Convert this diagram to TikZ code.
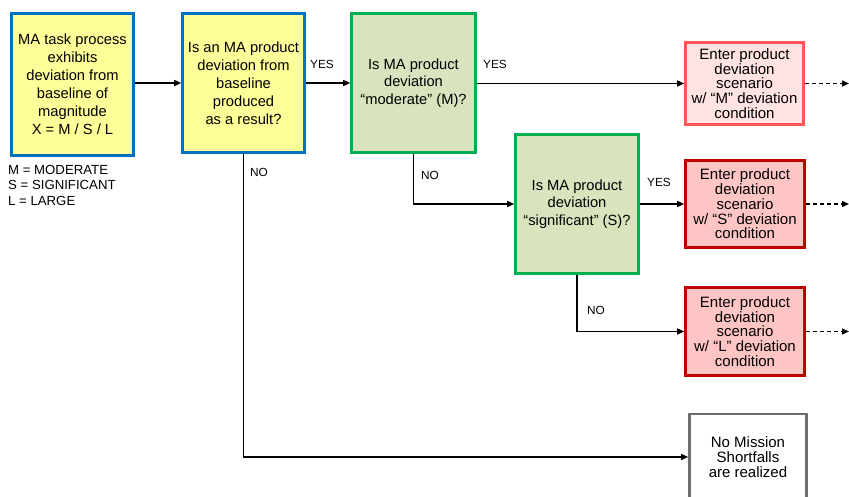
\documentclass[tikz,border=0pt]{standalone}
\usepackage{fontspec}
\setmainfont{Liberation Sans}
\usetikzlibrary{arrows.meta}
\definecolor{yfill}{HTML}{FFFF99}
\definecolor{bdraw}{HTML}{0070C0}
\definecolor{gfill}{HTML}{D7E4BD}
\definecolor{gdraw}{HTML}{00B050}
\definecolor{pfill}{HTML}{FFE3E3}
\definecolor{pdraw}{HTML}{FF5757}
\definecolor{rfill}{HTML}{FFC5C5}
\definecolor{rdraw}{HTML}{C00000}
\definecolor{hdraw}{HTML}{6E6E6E}
\tikzset{
  box/.style={rectangle, line width=2.6pt, inner sep=0pt, align=center,
    font=\fontsize{14.7}{18}\selectfont},
  ybox/.style={box, fill=yfill, draw=bdraw},
  gbox/.style={box, fill=gfill, draw=gdraw, font=\fontsize{14.7}{17.5}\selectfont},
  rbox/.style={box, font=\fontsize{15}{14.8}\selectfont},
  lbl/.style={font=\fontsize{11.8}{13}\selectfont, inner sep=0pt},
  arr/.style={line width=1.4pt, -{Triangle[length=7pt,width=6pt]}},
  darr/.style={arr, dash pattern=on 4pt off 3pt},
}
\begin{document}
\begin{tikzpicture}[x=1pt,y=-1pt]
\useasboundingbox (0,0) rectangle (849,497);
\clip (0,0) rectangle (849,497);
\node[ybox, minimum width=122pt, minimum height=142pt] (A) at (72.5,84.5)
  {MA task process\\exhibits\\deviation from\\baseline of\\magnitude\\X = M / S / L};
\node[anchor=north west, align=left, inner sep=0pt,
  font=\fontsize{13.2}{15.5}\selectfont] (leg) at (8,165)
  {M = MODERATE\\S = SIGNIFICANT\\L = LARGE};
\node[ybox, minimum width=122pt, minimum height=139pt] (B) at (243.5,83)
  {Is an MA product\\deviation from\\baseline\\produced\\as a result?};
\node[gbox, minimum width=124pt, minimum height=139pt] (C) at (413.5,83)
  {Is MA product\\deviation\\``moderate'' (M)?};
\node[gbox, minimum width=123pt, minimum height=139pt] (E) at (577,204)
  {Is MA product\\deviation\\``significant'' (S)?};
\node[rbox, fill=pfill, draw=pdraw, minimum width=118pt, minimum height=82pt] (D) at (744.5,83.5)
  {Enter product\\deviation\\scenario\\w/ ``M'' deviation\\condition};
\node[rbox, fill=rfill, draw=rdraw, minimum width=119pt, minimum height=87pt] (F) at (745,204)
  {Enter product\\deviation\\scenario\\w/ ``S'' deviation\\condition};
\node[rbox, fill=rfill, draw=rdraw, minimum width=119pt, minimum height=88pt] (G) at (745,331.5)
  {Enter product\\deviation\\scenario\\w/ ``L'' deviation\\condition};
\node[rbox, fill=white, draw=hdraw, minimum width=117pt, minimum height=86pt] (H) at (748,457)
  {No Mission\\Shortfalls\\are realized};
\coordinate (Dout) at (849,83.5);
\coordinate (Fout) at (849,204);
\coordinate (Gout) at (849,331.5);
% connectors
\draw[arr] (A.east |- B.east) -- (B.west);
\draw[arr] (B.east) -- (C.west);
\draw[arr] (C.east |- D.west) -- (D.west);
\draw[darr] (D.east) -- (Dout);
\draw[arr] (C.south) |- (E.west);
\draw[arr] (E.east) -- (F.west);
\draw[darr] (F.east) -- (Fout);
\draw[arr] (E.south) |- (G.west);
\draw[darr] (G.east) -- (Gout);
\draw[arr] (B.south) |- (H.west);
% labels
\node[lbl] (y1) at (322,64) {YES};
\node[lbl] (y2) at (495,64) {YES};
\node[lbl] (y3) at (659,182) {YES};
\node[lbl, anchor=west] (n1) at (250,172) {NO};
\node[lbl, anchor=west] (n2) at (421,175) {NO};
\node[lbl, anchor=west] (n3) at (587,310) {NO};
\end{tikzpicture}
\end{document}
